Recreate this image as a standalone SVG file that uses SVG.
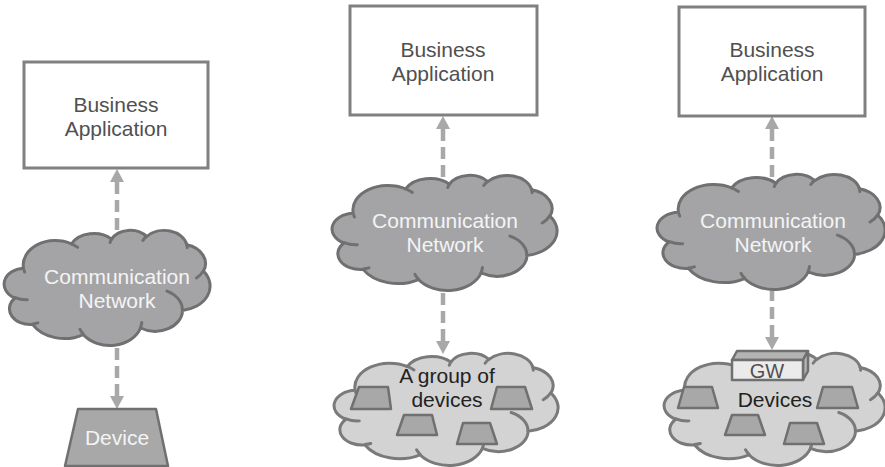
<svg xmlns="http://www.w3.org/2000/svg" xmlns:xlink="http://www.w3.org/1999/xlink" width="885" height="467" viewBox="0 0 885 467">
<style>
  .box { fill:#ffffff; stroke:#808080; stroke-width:3; }
  .btxt { font-family:"Liberation Sans", Arial, sans-serif; font-size:21px; fill:#505050; text-anchor:middle; }
  .ctxt { font-family:"Liberation Sans", Arial, sans-serif; font-size:21px; fill:#f4f4f4; text-anchor:middle; }
  .dtxt { font-family:"Liberation Sans", Arial, sans-serif; font-size:21px; fill:#222222; text-anchor:middle; }
  .dark { fill:#a4a4a6; stroke:#707070; }
  .light { fill:#d3d3d3; stroke:#7a7a7a; }
  .cl { stroke-width:3; stroke-linejoin:round; }
  .curl { fill:none; stroke-width:3; stroke-linecap:round; }
  .dev { fill:#a8a8a8; stroke:#707070; stroke-width:2.5; stroke-linejoin:round; }
  .conn { stroke:#a8a8a8; stroke-width:4.5; stroke-dasharray:12 6; fill:none; }
  .gwf { fill:#ebebeb; stroke:#707070; stroke-width:2.5; stroke-linejoin:round; }
  .gws { fill:#b4b4b4; stroke:#707070; stroke-width:2.5; stroke-linejoin:round; }
</style>
<defs>
  <marker id="ah" markerUnits="userSpaceOnUse" markerWidth="14" markerHeight="14" refX="0" refY="6.5" orient="auto-start-reverse" viewBox="0 0 13 13">
    <path d="M0,0 L12,6.5 L0,13 z" fill="#a8a8a8"/>
  </marker>
  <g id="cloud">
    <path class="cl" vector-effect="non-scaling-stroke" d="M39,143.7 A67.53,91.9 0 0 1 140.06,52.03 A53.33,72.67 0 0 1 224.57,34.32 A43.65,59.45 0 0 1 298.35,24.81 A48.57,65.95 0 0 1 383.21,55.76 A53.33,72.73 0 0 1 418.21,154.6 A67.75,92.2 0 0 1 374.06,302.01 A57.85,78.67 0 0 1 285.57,368.11 A67.52,92.15 0 0 1 164.82,392.63 A77.2,105.43 0 0 1 58.05,354.71 A43.6,59.18 0 0 1 21.14,255.5 A43.45,59.45 0 0 1 39,143.7 Z"/>
    <path class="curl" vector-effect="non-scaling-stroke" d="M46.93,261.77 A43.45,59.45 0 0 1 21.6,253.79 M69.28,348.99 A43.6,59.18 0 0 1 58.19,352.81 M164.78,390.9 A67.52,92.15 0 0 1 158.1,373.49 M288.27,347.51 A67.52,92.15 0 0 1 285.61,366.59 M341.29,229.54 A57.85,78.67 0 0 1 373.8,300.9 M417.98,153.54 A53.33,72.73 0 0 1 403.49,180.31 M383.24,54.26 A48.57,65.95 0 0 1 384,66.89 M290.78,39.52 A48.57,65.95 0 0 1 298.19,23.41 M221.41,47.2 A43.65,59.45 0 0 1 225,33.31 M140,51.92 A67.53,91.9 0 0 1 152.99,65.4 M41.27,157.89 A67.53,91.9 0 0 1 40.06,151.01"/>
  </g>
</defs>

<g id="connectors">
  <line class="conn" x1="117" y1="182" x2="117" y2="236" marker-start="url(#ah)"/>
  <line class="conn" x1="117" y1="396" x2="117" y2="342" marker-start="url(#ah)"/>
  <line class="conn" x1="443" y1="129" x2="443" y2="180" marker-start="url(#ah)"/>
  <line class="conn" x1="443" y1="341" x2="443" y2="288" marker-start="url(#ah)"/>
  <line class="conn" x1="772" y1="129" x2="772" y2="180" marker-start="url(#ah)"/>
  <line class="conn" x1="772" y1="337" x2="772" y2="288" marker-start="url(#ah)"/>
</g>

<g id="app1">
  <rect class="box" x="24" y="62" width="184" height="106"/>
  <text class="btxt" x="116" y="112">Business</text>
  <text class="btxt" x="116" y="136">Application</text>
</g>
<g id="net1">
  <use xlink:href="#cloud" class="dark" transform="translate(5,230) scale(0.4745,0.2662)"/>
  <text class="ctxt" x="117" y="284">Communication</text>
  <text class="ctxt" x="117" y="308">Network</text>
</g>
<g id="device1">
  <polygon class="dev" points="78,409 156,409 168,466 65,466"/>
  <text class="ctxt" x="117" y="445">Device</text>
</g>

<g id="app2">
  <rect class="box" x="350" y="6" width="187" height="109"/>
  <text class="btxt" x="443" y="57">Business</text>
  <text class="btxt" x="443" y="81">Application</text>
</g>
<g id="net2">
  <use xlink:href="#cloud" class="dark" transform="translate(333,175) scale(0.5185,0.2662)"/>
  <text class="ctxt" x="445" y="228">Communication</text>
  <text class="ctxt" x="445" y="252">Network</text>
</g>
<g id="group2">
  <use xlink:href="#cloud" class="light" transform="translate(335,353) scale(0.5162,0.2593)"/>
  <polygon class="dev" points="359,387 388,387 391,409 351,409"/>
  <polygon class="dev" points="404,415 432,415 437,435 397,435"/>
  <polygon class="dev" points="463,423 490,423 497,444 457,444"/>
  <polygon class="dev" points="497,387 525,387 532,409 491,409"/>
  <text class="dtxt" x="447" y="383">A group of</text>
  <text class="dtxt" x="447" y="407">devices</text>
</g>

<g id="app3">
  <rect class="box" x="679" y="7" width="186" height="109"/>
  <text class="btxt" x="772" y="57">Business</text>
  <text class="btxt" x="772" y="81">Application</text>
</g>
<g id="net3">
  <use xlink:href="#cloud" class="dark" transform="translate(658,174) scale(0.5255,0.2662)"/>
  <text class="ctxt" x="773" y="228">Communication</text>
  <text class="ctxt" x="773" y="252">Network</text>
</g>
<g id="group3">
  <use xlink:href="#cloud" class="light" transform="translate(665,353) scale(0.5093,0.2593)"/>
  <polygon class="dev" points="684,387 712,387 718,408 678,408"/>
  <polygon class="dev" points="732,415 758,415 765,435 725,435"/>
  <polygon class="dev" points="790,423 817,423 824,444 784,444"/>
  <polygon class="dev" points="823,387 852,387 858,408 817,408"/>
  <text class="dtxt" x="775" y="407">Devices</text>
</g>
<g id="gw3">
  <polygon class="gws" points="732,360 737,351 808,351 803,360"/>
  <polygon class="gws" points="803,360 808,351 808,371 803,380"/>
  <rect class="gwf" x="732" y="360" width="71" height="20"/>
  <text class="btxt" x="767" y="378" style="font-size:20px">GW</text>
</g>
</svg>
